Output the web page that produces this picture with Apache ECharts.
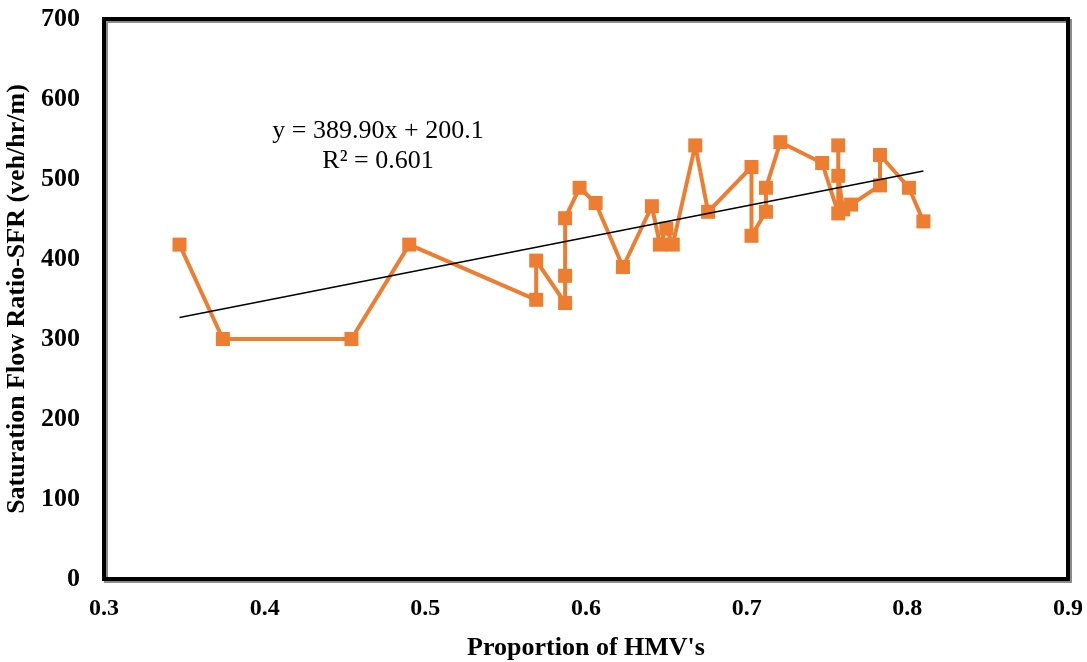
<!DOCTYPE html>
<html>
<head>
<meta charset="utf-8">
<script src="https://cdn.jsdelivr.net/npm/echarts@6/dist/echarts.min.js"></script>
<style>
  html, body { margin: 0; padding: 0; background: #fff; }
  #main { width: 1087px; height: 662px; }
</style>
</head>
<body>
<div id="main"></div>
<script>
// HMV proportion vs saturation flow, in plotting order
var hmv = [0.347, 0.374, 0.454, 0.490, 0.569, 0.569, 0.587, 0.587, 0.587, 0.596,
           0.606, 0.623, 0.641, 0.646, 0.650, 0.654, 0.668, 0.676, 0.703, 0.703,
           0.712, 0.712, 0.721, 0.747, 0.757, 0.757, 0.757, 0.760, 0.765, 0.783,
           0.783, 0.801, 0.810];
var sfr = [418, 300, 300, 418, 349, 398, 345, 379, 451, 489,
           470, 390, 466, 418, 438, 418, 542, 459, 515, 429,
           459, 489, 546, 520, 457, 542, 504, 462, 468, 492,
           530, 489, 447];
// linear trend line ends as drawn
var trendX = [0.347, 0.810];
var trendY = [327, 510];
var eqLines = ['y = 389.90x + 200.1', 'R² = 0.601'];

var pts = hmv.map(function (x, i) { return [x, sfr[i]]; });
var trend = trendX.map(function (x, i) { return [x, trendY[i]]; });

var font = '"Liberation Serif", "Times New Roman", serif';
var myChart = echarts.init(document.getElementById('main'));
myChart.setOption({
  animation: false,
  grid: {
    left: 104, right: 19, top: 19, bottom: 83,
    outerBoundsMode: 'none',
    show: true,
    borderColor: '#000',
    borderWidth: 4,
    shadowColor: 'rgba(0,0,0,0.45)',
    shadowBlur: 0,
    shadowOffsetX: 2,
    shadowOffsetY: 2
  },
  xAxis: {
    type: 'value',
    min: 0.3, max: 0.9, interval: 0.1,
    name: "Proportion of HMV's",
    nameLocation: 'middle',
    nameGap: 56,
    nameTextStyle: { fontFamily: font, fontWeight: 'bold', fontSize: 26, color: '#000' },
    axisLine: { show: false },
    axisTick: { show: false },
    splitLine: { show: false },
    axisLabel: {
      margin: 18,
      fontFamily: font, fontWeight: 'bold', fontSize: 24, color: '#000',
      formatter: function (v) { return v.toFixed(1); }
    }
  },
  yAxis: {
    type: 'value',
    min: 0, max: 700, interval: 100,
    name: 'Saturation Flow Ratio-SFR (veh/hr/m)',
    nameLocation: 'middle',
    nameGap: 65,
    nameTextStyle: { fontFamily: font, fontWeight: 'bold', fontSize: 26, color: '#000' },
    axisLine: { show: false },
    axisTick: { show: false },
    splitLine: { show: false },
    axisLabel: {
      margin: 24,
      fontFamily: font, fontWeight: 'bold', fontSize: 26, color: '#000'
    }
  },
  series: [{
    type: 'line',
    data: pts,
    symbol: 'rect',
    symbolSize: 14,
    lineStyle: { color: '#ED7D31', width: 4 },
    itemStyle: { color: '#ED7D31' },
    z: 2
  }, {
    type: 'line',
    data: trend,
    symbol: 'none',
    lineStyle: { color: '#000', width: 1.5 },
    z: 3
  }],
  graphic: [{
    type: 'text',
    x: 378, y: 116,
    style: {
      text: eqLines.join('\n'),
      textAlign: 'center',
      font: '26px ' + font,
      lineHeight: 30,
      fill: '#000'
    }
  }]
});
</script>
</body>
</html>
